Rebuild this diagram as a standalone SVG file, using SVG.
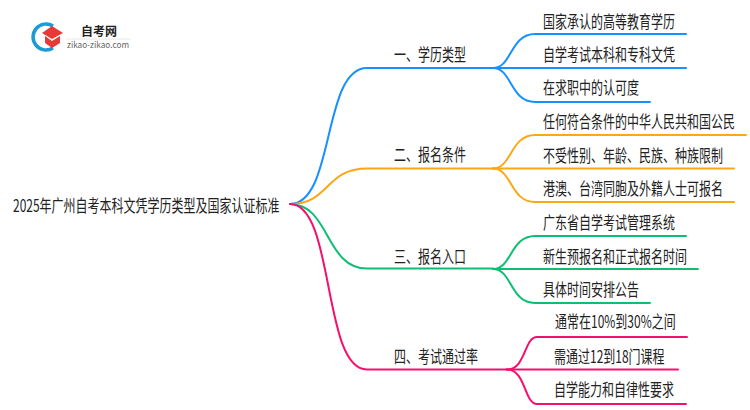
<svg xmlns="http://www.w3.org/2000/svg" width="750" height="410" viewBox="0 0 750 410">
<style>
text{font-family:"Noto Sans CJK SC","Noto Sans",sans-serif;font-size:17px;fill:#222}
.c path{fill:none;stroke-width:2;stroke-linecap:round}
.b{stroke:#1890ff}.o{stroke:#faa814}.g{stroke:#0dbf72}.p{stroke:#f5106e}
</style>
<rect width="750" height="410" fill="#fff"/>
<g id="connectors" class="c">
<path class="b" d="M290 204C335 204 322 68 367 68H493"/>
<path class="o" d="M290 204C330 204 325 168.500 367 168.500H493"/>
<path class="g" d="M290 204C330 204 325 268.500 367 268.500H493"/>
<path class="p" d="M290 204C335 204 322 369.500 367 369.500H507"/>
<path class="b" d="M493 68C512 68 510 34 535 34H686"/>
<path class="b" d="M493 68H686"/>
<path class="b" d="M493 68C512 68 510 102 535 102H650"/>
<path class="o" d="M493 168.500C512 168.500 510 135 535 135H746"/>
<path class="o" d="M493 168.500H734"/>
<path class="o" d="M493 168.500C512 168.500 510 202 535 202H734"/>
<path class="g" d="M493 269C512 269 510 236 535 236H686"/>
<path class="g" d="M493 269H698"/>
<path class="g" d="M493 269C512 269 510 303 535 303H650"/>
<path class="p" d="M507 369.500C526 369.500 524 337 537 337H687"/>
<path class="p" d="M507 369.500H678"/>
<path class="p" d="M507 369.500C526 369.500 524 404 537 404H686"/>
</g>
<g id="logo">
<path d="M53 26A13 13 0 1 0 53 48" fill="none" stroke="#1b9ad6" stroke-width="3.500"/>
<path d="M52 26L63 33L52 39L42 33Z" fill="#e53a35"/>
<path d="M45 36L52 41L60 36V43L52 48L45 43Z" fill="#e53a35"/>
<text transform="translate(81 36)" style="font-size:12px;font-weight:700">自考网</text>
<path d="M66 39H131" stroke="#e8e8e8" fill="none"/>
<text x="67" y="48" textLength="62" lengthAdjust="spacingAndGlyphs" style="font-size:8.500px;fill:#666">zikao-zikao.com</text>
</g>
<g id="root"><text transform="translate(13 212) scale(.706 1)">2025年广州自考本科文凭学历类型及国家认证标准</text></g>
<g id="n1"><text transform="translate(394 61) scale(.706 1)">一、学历类型</text></g>
<g id="n2"><text transform="translate(394 161) scale(.706 1)">二、报名条件</text></g>
<g id="n3"><text transform="translate(394 263) scale(.706 1)">三、报名入口</text></g>
<g id="n4"><text transform="translate(394 363) scale(.706 1)">四、考试通过率</text></g>
<g id="l1"><text transform="translate(543 28) scale(.706 1)">国家承认的高等教育学历</text></g>
<g id="l2"><text transform="translate(543 61) scale(.706 1)">自学考试本科和专科文凭</text></g>
<g id="l3"><text transform="translate(543 94) scale(.706 1)">在求职中的认可度</text></g>
<g id="l4"><text transform="translate(543 128) scale(.706 1)">任何符合条件的中华人民共和国公民</text></g>
<g id="l5"><text transform="translate(543 162) scale(.706 1)">不受性别、年龄、民族、种族限制</text></g>
<g id="l6"><text transform="translate(543 195) scale(.706 1)">港澳、台湾同胞及外籍人士可报名</text></g>
<g id="l7"><text transform="translate(543 229) scale(.706 1)">广东省自学考试管理系统</text></g>
<g id="l8"><text transform="translate(543 263) scale(.706 1)">新生预报名和正式报名时间</text></g>
<g id="l9"><text transform="translate(543 296) scale(.706 1)">具体时间安排公告</text></g>
<g id="l10"><text transform="translate(555 328) scale(.706 1)">通常在10%到30%之间</text></g>
<g id="l11"><text transform="translate(554 363) scale(.706 1)">需通过12到18门课程</text></g>
<g id="l12"><text transform="translate(554 396) scale(.706 1)">自学能力和自律性要求</text></g>
</svg>
